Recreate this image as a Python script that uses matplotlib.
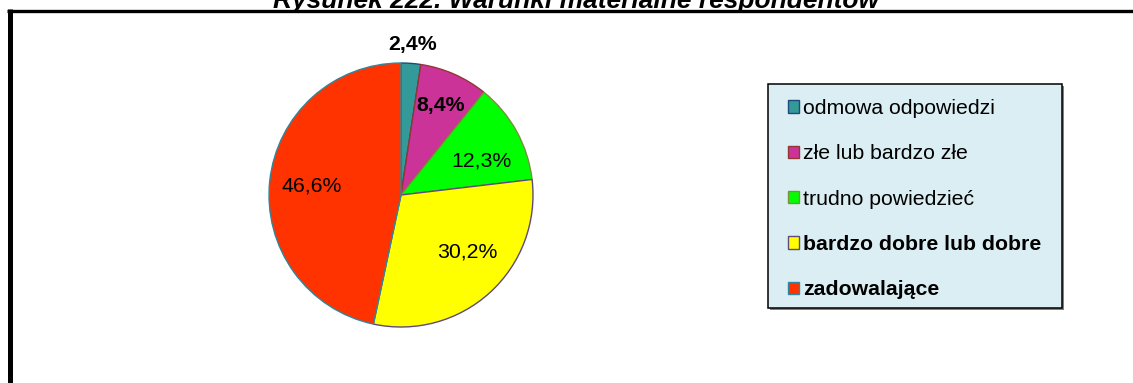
import matplotlib
matplotlib.use("Agg")
import matplotlib.pyplot as plt
import numpy as np
from matplotlib.lines import Line2D
from matplotlib.patches import Rectangle

plt.rcParams['font.family'] = ['Liberation Sans', 'DejaVu Sans']

# data
categories = ['odmowa odpowiedzi', 'złe lub bardzo złe', 'trudno powiedzieć',
              'bardzo dobre lub dobre', 'zadowalające']
shares = [2.4, 8.4, 12.3, 30.2, 46.6]
value_labels = ['2,4%', '8,4%', '12,3%', '30,2%', '46,6%']
bold_legend = [False, False, False, True, True]
bold_values = [True, True, False, False, False]

colors = ['#339999', '#CC3399', '#00FF00', '#FFFF00', '#FF3300']
edge_colors = ['#1F497D', '#943634', '#76923C', '#5F497A', '#31859C']

W, H = 1133, 383


def fx(x):
    return x / W


def fy(y):
    return 1 - y / H


fig = plt.figure(figsize=(W / 100, H / 100), dpi=100)

# title, cut off at the top like in the source
fig.text(fx(576), fy(8), 'Rysunek 222. Warunki materialne respondentów',
         ha='center', va='baseline', fontsize=19, fontweight='bold',
         fontstyle='italic', zorder=1)

# outer frame (only left and top edges are visible)
fig.add_artist(Line2D([fx(7.3), fx(W + 5)], [fy(10.7), fy(10.7)], color='black',
                      lw=2.4, solid_capstyle='butt', transform=fig.transFigure, zorder=5))
fig.add_artist(Line2D([fx(9.8), fx(9.8)], [fy(9), fy(H + 5)], color='black',
                      lw=3.6, solid_capstyle='butt', transform=fig.transFigure, zorder=5))

# pie
cx, cy, r = 401, 195, 132
ax = fig.add_axes([fx(cx - r), fy(cy + r), 2 * r / W, 2 * r / H])
wedges, _ = ax.pie(shares, colors=colors, startangle=90, counterclock=False,
                   wedgeprops=dict(linewidth=1.0))
for w, ec in zip(wedges, edge_colors):
    w.set_edgecolor(ec)
ax.set_xlim(-1, 1)
ax.set_ylim(-1, 1)
ax.set_aspect('equal')
ax.axis('off')

# label placement: distance from centre and small angular nudge
label_dist = [1.14, 0.74, 0.66, 0.66, 0.68]
label_nudge = [0, 0, -6, 7, 0]
for w, txt, d, nudge, b in zip(wedges, value_labels, label_dist, label_nudge, bold_values):
    ang = np.deg2rad((w.theta1 + w.theta2) / 2 + nudge)
    ax.text(d * np.cos(ang), d * np.sin(ang), txt, ha='center', va='center',
            fontsize=15.3, fontweight='bold' if b else 'normal')

# legend box
fig.add_artist(Rectangle((fx(770), fy(310)), 294 / W, 224 / H, transform=fig.transFigure,
                         facecolor='#808080', edgecolor='none', zorder=2))
fig.add_artist(Rectangle((fx(768), fy(308)), 294 / W, 224 / H, transform=fig.transFigure,
                         facecolor='#DBEEF3', edgecolor='black', lw=1.1, zorder=3))
leg = fig.legend(wedges, categories, loc='upper left',
                 bbox_to_anchor=(fx(788), fy(99)), bbox_transform=fig.transFigure,
                 frameon=False, fontsize=15.3, borderpad=0, borderaxespad=0,
                 handlelength=0.52, handleheight=0.52, handletextpad=0.2,
                 labelspacing=1.24)
leg.set_zorder(4)
for t, b in zip(leg.get_texts(), bold_legend):
    if b:
        t.set_fontweight('bold')

fig.savefig('out.png', dpi=100)
